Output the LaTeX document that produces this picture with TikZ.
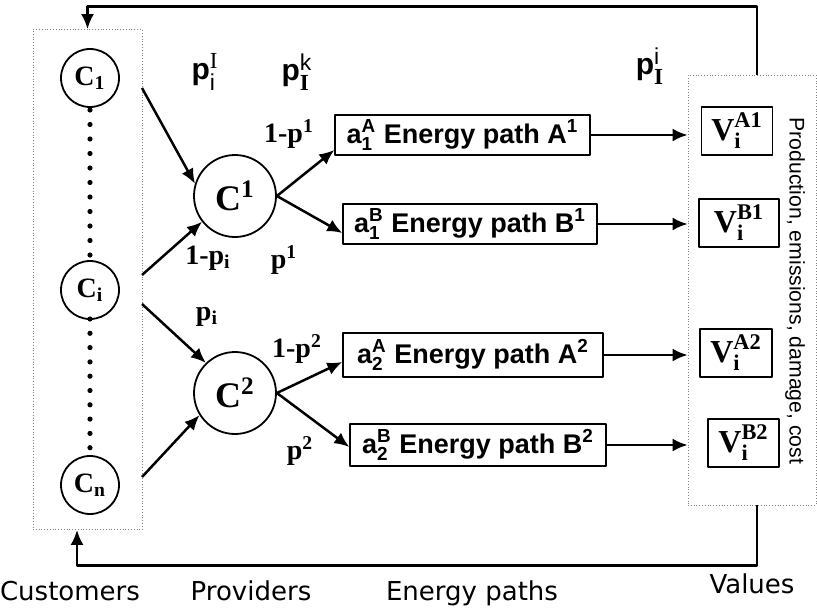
\documentclass[tikz,border=0pt]{standalone}
\usepackage{fontspec}
\setmainfont{Liberation Serif}
\setsansfont{Liberation Sans}
\newfontfamily\captfont{DejaVu Sans}
\usepackage{amsmath}
\DeclareMathSizes{15}{15}{11.5}{9}
\usetikzlibrary{arrows.meta}
\begin{document}
\begin{tikzpicture}[line join=round,>={Latex[length=7.5pt,width=6.5pt]},x=0.5pt,y=-0.5pt]
	\tikzset{grpbox/.style={draw=gray,densely dotted,thin,inner sep=0pt},
		cust/.style={draw,circle,line width=0.9pt,minimum size=29pt,inner sep=0pt,font=\fontsize{14}{15}\selectfont},
		prov/.style={draw,circle,line width=0.9pt,minimum size=41pt,inner sep=0pt,font=\fontsize{18}{19}\selectfont},
		epath/.style={draw,line width=0.7pt,minimum height=20pt,inner sep=0pt,font=\fontsize{13.5}{15}\selectfont\sffamily\bfseries},
		val/.style={draw,line width=0.7pt,minimum width=36pt,minimum height=24pt,inner sep=0pt,font=\fontsize{16}{17}\selectfont},
		prob/.style={font=\fontsize{14}{15}\selectfont\bfseries},
		pl/.style={font=\fontsize{15}{16}\selectfont\sffamily\bfseries},
		capt/.style={anchor=base,font=\fontsize{13}{15}\selectfont\captfont},
		flow/.style={->,line width=1.25pt}}
	\useasboundingbox (0,0) rectangle (817,610);
	% customers
	\node[grpbox,minimum width=54.5pt,minimum height=250pt] (cbox) at (87.5,279.5) {};
	\node[cust] (c1) at (90,78) {$\mathbf{C}_{\mathbf{1}}$};
	\node[cust] (ci) at (90,290) {$\mathbf{C}_{\mathbf{i}}$};
	\node[cust] (cn) at (90,485) {$\mathbf{C}_{\mathbf{n}}$};
	\foreach \y in {110,124.5,...,256}
	\fill (90,\y) circle (1.3pt);
	\foreach \y in {319,333.3,...,449}
	\fill (90,\y) circle (1.3pt);
	% providers
	\node[prov] (p1) at (235,196) {$\mathbf{C}^{\mathbf{1}}$};
	\node[prov] (p2) at (235,393) {$\mathbf{C}^{\mathbf{2}}$};
	% energy paths
	\node[epath,minimum width=127.5pt] (a1) at (462.5,135) {a$_{\text{1}}^{\text{A}}$ Energy path A$^{\text{1}}$};
	\node[epath,minimum width=127pt] (b1) at (470,224) {a$_{\text{1}}^{\text{B}}$ Energy path B$^{\text{1}}$};
	\node[epath,minimum width=130pt,minimum height=22pt] (a2) at (473,355) {a$_{\text{2}}^{\text{A}}$\ Energy path A$^{\text{2}}$};
	\node[epath,minimum width=128pt,minimum height=21pt] (b2) at (478,445) {a$_{\text{2}}^{\text{B}}$ Energy path B$^{\text{2}}$};
	% values
	\node[grpbox,minimum width=64pt,minimum height=215pt] (vbox) at (752,290) {};
	\node[val,minimum width=35.5pt] (va1) at (737,131) {$\mathbf{V}_{\mathbf{i}}^{\mathbf{A1}}$};
	\node[val,minimum width=40pt] (vb1) at (739,223) {$\mathbf{V}_{\mathbf{i}}^{\mathbf{B1}}$};
	\node[val] (va2) at (736,353) {$\mathbf{V}_{\mathbf{i}}^{\mathbf{A2}}$};
	\node[val,minimum width=35.5pt] (vb2) at (743.5,443) {$\mathbf{V}_{\mathbf{i}}^{\mathbf{B2}}$};
	\node[rotate=-90,font=\fontsize{10.6}{12}\selectfont\sffamily] (vtext) at (795,291) {Production, emissions, damage, cost};
	% probabilities
	\node[pl] (lpiI) at (205,72) {p$_{\text{\mdseries i}}^{\text{\rmfamily\mdseries I}}$};
	\node[pl] (lpIk) at (297,72) {p$_{\text{\rmfamily I}}^{\text{\mdseries k}}$};
	\node[pl] (lpIi) at (650,66) {p$_{\text{\rmfamily I}}^{\text{\mdseries i}}$};
	\node[prob] (lq1) at (208,258) {1-p$_{\mathbf{i}}$};
	\node[prob] (lp1) at (284,260) {p$^{\mathbf{1}}$};
	\node[prob] (lq2) at (207,317) {p$_{\mathbf{i}}$};
	\node[prob] (lr1) at (289,134) {1-p$^{\mathbf{1}}$};
	\node[prob] (lr2) at (297,349) {1-p$^{\mathbf{2}}$};
	\node[prob] (lp2) at (300,451) {p$^{\mathbf{2}}$};
	% connectors
	\coordinate (o1) at (142,88);
	\coordinate (o2) at (142,275);
	\coordinate (o3) at (142,304);
	\coordinate (o4) at (142,477);
	\draw[flow] (o1) -- (p1.163);
	\draw[flow] (o2) -- (p1.218);
	\draw[flow] (o3) -- (p2.134);
	\draw[flow] (o4) -- (p2.212);
	\draw[flow] (p1.east) -- ([yshift=-7.5pt]a1.west);
	\draw[flow] (p1.east) -- ([yshift=-4.5pt]b1.west);
	\draw[flow] (p2.east) -- ([yshift=-3.5pt]a2.west);
	\draw[flow] (p2.east) -- ([yshift=-1pt]b2.west);
	\foreach \b in {a1,b1,a2,b2}
	\draw[flow] (\b.east) -- (\b.east -| vbox.west);
	% feedback loop
	\draw[flow] ([xshift=2.5pt]vbox.north) -- ++(0,-68) -| (cbox.north);
	\draw[flow] ([xshift=2.5pt]vbox.south) -- ++(0,60) -| ([xshift=-5.25pt]cbox.south);
	% captions
	\node[capt] (lcust) at (70,600) {Customers};
	\node[capt] (lprov) at (251,600) {Providers};
	\node[capt] (lpath) at (472,600) {Energy paths};
	\node[capt] (lval) at (752,593) {Values};
\end{tikzpicture}
\end{document}
